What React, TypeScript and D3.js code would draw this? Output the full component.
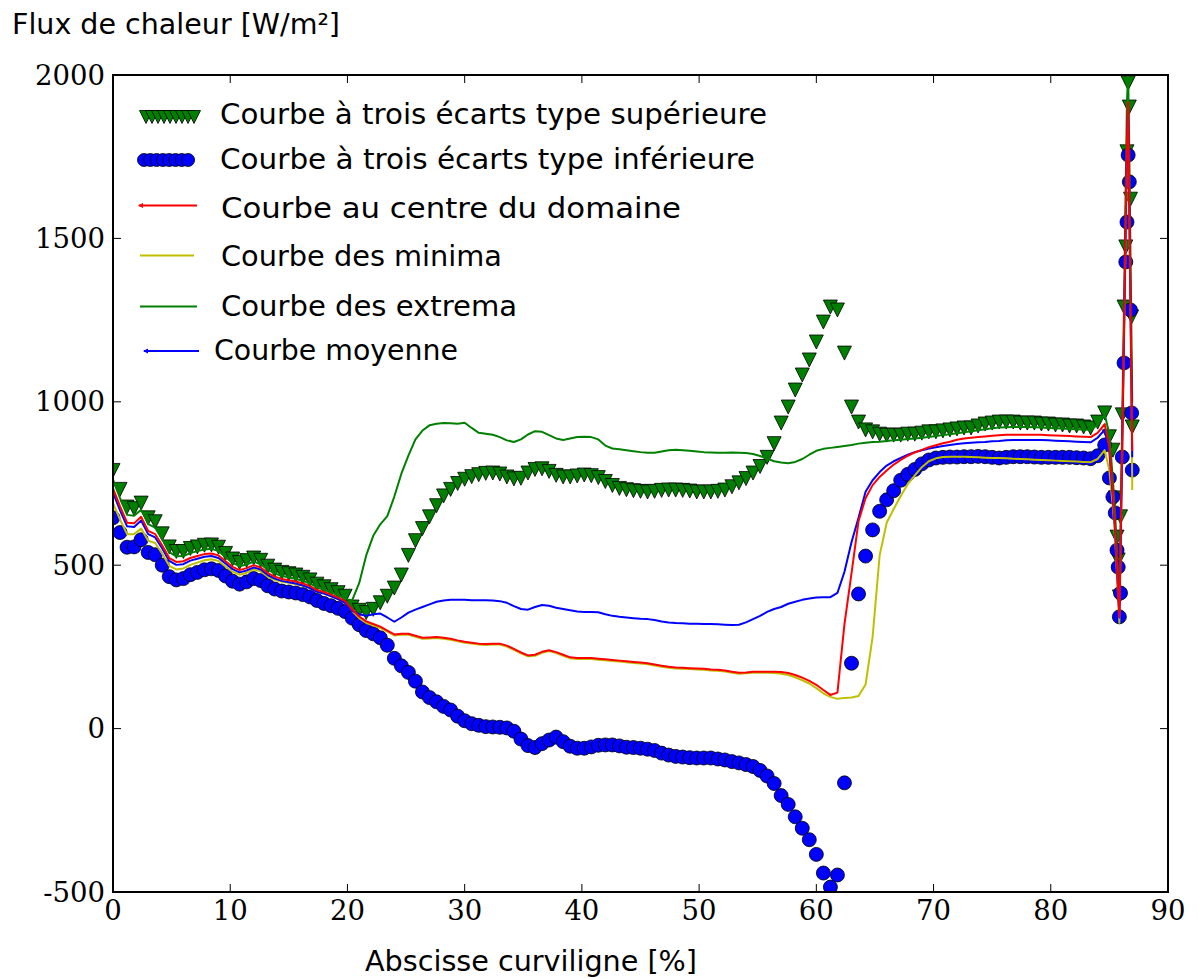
import React from "react";
import * as d3 from "d3";

// Curvilinear abscissa [%] shared by every series
const abscisse = [
  0, 0.6, 1.2, 1.8, 2.4, 3, 3.6, 4.2, 4.8, 5.4,
  6, 6.6, 7.2, 7.8, 8.4, 9, 9.6, 10.2, 10.8, 11.4,
  12, 12.6, 13.2, 13.8, 14.4, 15, 15.6, 16.2, 16.8, 17.4,
  18, 18.6, 19.2, 19.8, 20.4, 21, 21.6, 22.2, 22.8, 23.4,
  24, 24.6, 25.2, 25.8, 26.4, 27, 27.6, 28.2, 28.8, 29.4,
  30, 30.6, 31.2, 31.8, 32.4, 33, 33.6, 34.2, 34.8, 35.4,
  36, 36.6, 37.2, 37.8, 38.4, 39, 39.6, 40.2, 40.8, 41.4,
  42, 42.6, 43.2, 43.8, 44.4, 45, 45.6, 46.2, 46.8, 47.4,
  48, 48.6, 49.2, 49.8, 50.4, 51, 51.6, 52.2, 52.8, 53.4,
  54, 54.6, 55.2, 55.8, 56.4, 57, 57.6, 58.2, 58.8, 59.4,
  60, 60.6, 61.2, 61.8, 62.4, 63, 63.6, 64.2, 64.8, 65.4,
  66, 66.6, 67.2, 67.8, 68.4, 69, 69.6, 70.2, 70.8, 71.4,
  72, 72.6, 73.2, 73.8, 74.4, 75, 75.6, 76.2, 76.8, 77.4,
  78, 78.6, 79.2, 79.8, 80.4, 81, 81.6, 82.2, 82.8, 83.4,
  84, 84.6, 85, 85.3, 85.5, 85.65, 85.75, 85.85, 85.95, 86.1, 86.25, 86.4, 86.5, 86.6, 86.7, 86.8, 86.9, 86.95,
];

// Mean + 3 sigma [W/m²]
const courbeSuperieure = [
  790, 732, 678, 673, 690, 645, 633, 596, 556, 542,
  542, 551, 556, 561, 562, 555, 536, 519, 508, 514,
  522, 515, 497, 485, 478, 474, 470, 463, 455, 442,
  434, 425, 416, 405, 372, 362, 355, 365, 385, 405,
  430, 470, 530, 575, 612, 648, 682, 712, 732, 750,
  763, 771, 777, 781, 782, 779, 770, 764, 766, 782,
  793, 795, 787, 775, 770, 770, 773, 776, 774, 768,
  756, 744, 735, 731, 728, 726, 724, 726, 729, 730,
  730, 729, 727, 724, 724, 724, 726, 730, 740, 752,
  765, 782, 802, 830, 872, 935, 984, 1036, 1082, 1128,
  1183, 1244, 1290, 1281, 1149, 984, 938, 914, 908, 901,
  898, 898, 898, 901, 901, 904, 908, 908, 911, 914,
  917, 920, 920, 926, 932, 935, 938, 938, 938, 935,
  935, 935, 932, 932, 929, 929, 926, 926, 923, 920,
  938, 966, 893, 852, 706, 586, 516, 403, 648, 960, 1290, 1474, 1765, 1975, 1902, 1620, 1260, 923,
];

// Mean - 3 sigma [W/m²]
const courbeInferieure = [
  645, 600, 555, 556, 578, 539, 532, 500, 465, 455,
  459, 471, 478, 486, 489, 484, 467, 451, 442, 449,
  459, 453, 437, 427, 421, 418, 415, 410, 403, 392,
  383, 376, 368, 358, 338, 318, 300, 290, 278, 255,
  215, 192, 172, 145, 112, 95, 82, 68, 57, 38,
  24, 15, 10, 6, 5, 4, 2, -8, -32, -52,
  -58, -46, -35, -26, -40, -54, -60, -60, -56, -51,
  -50, -50, -53, -57, -58, -60, -63, -67, -75, -81,
  -85, -87, -89, -90, -90, -90, -93, -96, -101, -105,
  -110, -116, -128, -145, -168, -205, -232, -270, -305, -340,
  -385, -442, -485, -448, -166, 200, 412, 528, 608, 665,
  700, 728, 760, 778, 793, 810, 822, 828, 830, 831,
  831, 832, 832, 833, 832, 830, 828, 830, 832, 832,
  832, 831, 830, 830, 830, 830, 830, 829, 828, 826,
  835, 868, 767, 709, 660, 546, 494, 342, 415, 831, 1119, 1428, 1550, 1755, 1673, 1281, 966, 791,
];

// Curve at the centre of the domain
const courbeCentre = [
  735, 680, 630, 628, 648, 605, 595, 560, 522, 510,
  512, 522, 528, 534, 536, 530, 512, 495, 485, 491,
  500, 493, 476, 465, 458, 454, 450, 444, 436, 424,
  418, 410, 401, 390, 365, 343, 328, 320, 312, 300,
  288, 290, 290, 284, 278, 279, 280, 278, 275, 270,
  266, 263, 260, 259, 260, 260, 254, 244, 233, 224,
  226, 235, 240, 234, 226, 218, 216, 216, 216, 214,
  212, 210, 208, 206, 204, 202, 200, 196, 192, 189,
  187, 186, 185, 184, 183, 181, 180, 178, 174, 171,
  172, 174, 174, 174, 174, 173, 170, 164, 156, 146,
  134, 118, 103, 110, 320, 475, 635, 705, 745, 770,
  790, 808, 822, 835, 845, 853, 861, 867, 873, 878,
  884, 888, 890, 892, 894, 896, 898, 899, 899, 899,
  899, 899, 899, 898, 897, 896, 895, 894, 893, 892,
  905, 932, 860, 720, 610, 500, 420, 342, 560, 900, 1230, 1580, 1805, 1917, 1612, 1307, 1002, 850,
];

// Minimum over all samples
const courbeMinima = [
  690, 640, 595, 595, 612, 575, 568, 535, 498, 487,
  490, 501, 508, 515, 518, 513, 496, 480, 471, 477,
  487, 481, 465, 455, 449, 446, 442, 437, 430, 419,
  413, 406, 397, 386, 360, 338, 323, 316, 308, 297,
  285, 287, 287, 281, 275, 276, 277, 275, 272, 267,
  263, 260, 257, 256, 257, 257, 251, 241, 230, 221,
  223, 232, 237, 231, 223, 215, 213, 213, 213, 211,
  209, 207, 205, 203, 201, 199, 197, 193, 189, 186,
  184, 183, 182, 181, 180, 178, 177, 175, 171, 168,
  169, 171, 171, 171, 170, 168, 164, 157, 148, 138,
  124, 108, 97, 91, 94, 95, 100, 135, 280, 530,
  630, 672, 712, 748, 775, 800, 818, 827, 831, 832,
  832, 832, 831, 830, 829, 828, 828, 827, 826, 825,
  824, 823, 822, 821, 820, 819, 818, 817, 816, 815,
  825, 852, 790, 680, 580, 470, 400, 324, 520, 850, 1180, 1520, 1750, 1880, 1580, 1280, 980, 730,
];

// Maximum over all samples
const courbeExtrema = [
  762, 705, 654, 651, 670, 626, 615, 579, 540, 527,
  528, 537, 543, 548, 550, 543, 525, 507, 497, 502,
  511, 503, 486, 475, 467, 463, 458, 452, 444, 432,
  425, 417, 408, 397, 392, 445, 530, 590, 625, 650,
  710, 780, 835, 885, 912, 928, 933, 935, 934, 933,
  936, 920, 905, 902, 899, 892, 882, 877, 885, 900,
  910, 908, 898, 888, 883, 888, 892, 893, 892, 885,
  866, 857, 855, 852, 849, 846, 844, 844, 848, 852,
  853, 852, 850, 848, 846, 845, 844, 844, 845, 844,
  843, 840, 834, 826, 818, 814, 812, 816, 825, 838,
  850, 856, 859, 862, 865, 868, 872, 875, 877, 878,
  880, 882, 884, 886, 888, 890, 892, 895, 898, 901,
  904, 907, 910, 913, 916, 919, 921, 922, 923, 923,
  923, 922, 921, 920, 919, 918, 917, 916, 915, 914,
  930, 962, 900, 760, 650, 540, 460, 380, 600, 950, 1300, 1680, 1920, 2000, 1760, 1450, 1150, 1000,
];

// Mean over all samples
const courbeMoyenne = [
  722, 668, 619, 617, 637, 595, 585, 551, 513, 501,
  503, 514, 520, 526, 528, 522, 505, 488, 478, 484,
  493, 487, 470, 459, 452, 448, 444, 438, 430, 419,
  413, 405, 396, 385, 360, 350, 345, 350, 352, 340,
  327, 340, 355, 364, 372, 380, 388, 392, 394, 394,
  394, 393, 393, 393, 392, 390, 385, 375, 366, 364,
  372, 378, 376, 370, 366, 362, 358, 357, 357, 356,
  350, 345, 342, 340, 338, 336, 335, 332, 328, 325,
  323, 322, 321, 321, 320, 320, 319, 318, 317, 318,
  325, 335, 345, 357, 366, 372, 382, 388, 394, 398,
  401, 402, 402, 415, 480, 570, 645, 725, 760, 785,
  805, 818, 828, 838, 846, 852, 857, 861, 865, 868,
  871, 873, 875, 876, 877, 879, 880, 882, 883, 883,
  883, 883, 883, 882, 881, 880, 879, 878, 877, 876,
  890, 915, 845, 705, 600, 490, 415, 340, 550, 880, 1210, 1560, 1790, 1900, 1600, 1300, 990, 830,
];

const xTicks = [0, 10, 20, 30, 40, 50, 60, 70, 80, 90];
const yTicks = [-500, 0, 500, 1000, 1500, 2000];

const legendLabels = [
  "Courbe à trois écarts type supérieure",
  "Courbe à trois écarts type inférieure",
  "Courbe au centre du domaine",
  "Courbe des minima",
  "Courbe des extrema",
  "Courbe moyenne",
];

const W = 1198;
const H = 979;
const PL = 113;
const PR = 1168;
const PT = 75;
const PB = 892;

const GREEN = "#008000";
const BLUE = "#0000ff";
const RED = "#ff0000";
const YELLOW = "#bfbf00";

const MS = 14;

function trianglePath(cx: number, cy: number, s: number) {
  const h = s / 2;
  return `M${cx - h},${cy - h}L${cx + h},${cy - h}L${cx},${cy + h}Z`;
}

// legend text placement: left x, baseline y, rendered width
const legendText = [
  { x: 220, y: 124, w: 547 },
  { x: 220, y: 169, w: 535 },
  { x: 221, y: 218, w: 460 },
  { x: 221, y: 266, w: 281 },
  { x: 221, y: 316, w: 296 },
  { x: 214, y: 360, w: 244 },
];

export default function App() {
  const x = d3.scaleLinear().domain([0, 90]).range([PL, PR]);
  const y = d3.scaleLinear().domain([-500, 2000]).range([PB, PT]);

  const pts = (vals: number[]) => abscisse.map((a, i) => [a, vals[i]] as [number, number]);
  const line = d3
    .line<[number, number]>()
    .x((d) => x(d[0]))
    .y((d) => y(d[1]));

  const sans = "'DejaVu Sans', sans-serif";
  const serif = "'DejaVu Serif', serif";

  return (
    <svg
      width={W}
      height={H}
      viewBox={`0 0 ${W} ${H}`}
      style={{ position: "absolute", left: 0, top: 0, background: "#fff" }}
    >
      <defs>
        <clipPath id="plotArea">
          <rect x={PL} y={PT} width={PR - PL} height={PB - PT} />
        </clipPath>
      </defs>
      <rect x={0} y={0} width={W} height={H} fill="#fff" />

      <g clipPath="url(#plotArea)">
        {pts(courbeSuperieure).map((d, i) => (
          <path
            key={`s${i}`}
            d={trianglePath(x(d[0]), y(d[1]), MS)}
            fill={GREEN}
            stroke="#000"
            strokeWidth={0.8}
          />
        ))}
        {pts(courbeInferieure).map((d, i) => (
          <circle
            key={`i${i}`}
            cx={x(d[0])}
            cy={y(d[1])}
            r={MS / 2}
            fill={BLUE}
            stroke="#000"
            strokeWidth={0.8}
          />
        ))}
        <path d={line(pts(courbeMinima)) || ""} fill="none" stroke={YELLOW} strokeWidth={2} strokeLinejoin="round" />
        <path d={line(pts(courbeExtrema)) || ""} fill="none" stroke={GREEN} strokeWidth={2} strokeLinejoin="round" />
        <path d={line(pts(courbeMoyenne)) || ""} fill="none" stroke={BLUE} strokeWidth={2} strokeLinejoin="round" />
        <path d={line(pts(courbeCentre)) || ""} fill="none" stroke={RED} strokeWidth={2} strokeLinejoin="round" />
      </g>

      {/* frame */}
      <rect x={PL} y={PT} width={PR - PL} height={PB - PT} fill="none" stroke="#000" strokeWidth={2} />

      {/* ticks, pointing inwards on every side */}
      {xTicks.map((t) => (
        <g key={`xt${t}`}>
          <line x1={x(t)} x2={x(t)} y1={PB} y2={PB - 8} stroke="#000" strokeWidth={1} />
          <line x1={x(t)} x2={x(t)} y1={PT} y2={PT + 8} stroke="#000" strokeWidth={1} />
          <text
            x={x(t)}
            y={PB + 28}
            textAnchor="middle"
            fontFamily={serif}
            fontSize={27.5}
            fill="#000"
          >
            {t}
          </text>
        </g>
      ))}
      {yTicks.map((t) => (
        <g key={`yt${t}`}>
          <line x1={PL} x2={PL + 8} y1={y(t)} y2={y(t)} stroke="#000" strokeWidth={1} />
          <line x1={PR} x2={PR - 8} y1={y(t)} y2={y(t)} stroke="#000" strokeWidth={1} />
          <text
            x={PL - 8}
            y={y(t) + 9.5}
            textAnchor="end"
            fontFamily={serif}
            fontSize={27.5}
            fill="#000"
          >
            {t}
          </text>
        </g>
      ))}

      {/* axis titles */}
      <text
        x={12}
        y={34}
        fontFamily={sans}
        fontSize={28}
        fill="#000"
        textLength={328}
        lengthAdjust="spacingAndGlyphs"
      >
        Flux de chaleur [W/m²]
      </text>
      <text
        x={365}
        y={971}
        fontFamily={sans}
        fontSize={28}
        fill="#000"
        textLength={332}
        lengthAdjust="spacingAndGlyphs"
      >
        Abscisse curviligne [%]
      </text>

      {/* legend */}
      <g>
        {d3.range(9).map((k) => (
          <path
            key={`lt${k}`}
            d={trianglePath(146 + k * 6, 117, 13)}
            fill={GREEN}
            stroke="#000"
            strokeWidth={0.8}
          />
        ))}
        {d3.range(8).map((k) => (
          <circle
            key={`lc${k}`}
            cx={144 + k * 6.3}
            cy={160}
            r={6.5}
            fill={BLUE}
            stroke="#000"
            strokeWidth={0.8}
          />
        ))}
        <line x1={139} x2={197} y1={205.5} y2={205.5} stroke={RED} strokeWidth={2} />
        <path d="M138,205.5L143,203L143,208Z" fill={RED} />
        <line x1={140} x2={194} y1={255.5} y2={255.5} stroke={YELLOW} strokeWidth={2} />
        <line x1={140} x2={197} y1={306.5} y2={306.5} stroke={GREEN} strokeWidth={2} />
        <line x1={144} x2={199} y1={351} y2={351} stroke={BLUE} strokeWidth={2} />
        <path d="M143,351L148,348.5L148,353.5Z" fill={BLUE} />
        {legendLabels.map((lab, i) => (
          <text
            key={`ll${i}`}
            x={legendText[i].x}
            y={legendText[i].y}
            fontFamily={sans}
            fontSize={28}
            fill="#000"
            textLength={legendText[i].w}
            lengthAdjust="spacingAndGlyphs"
          >
            {lab}
          </text>
        ))}
      </g>
    </svg>
  );
}
